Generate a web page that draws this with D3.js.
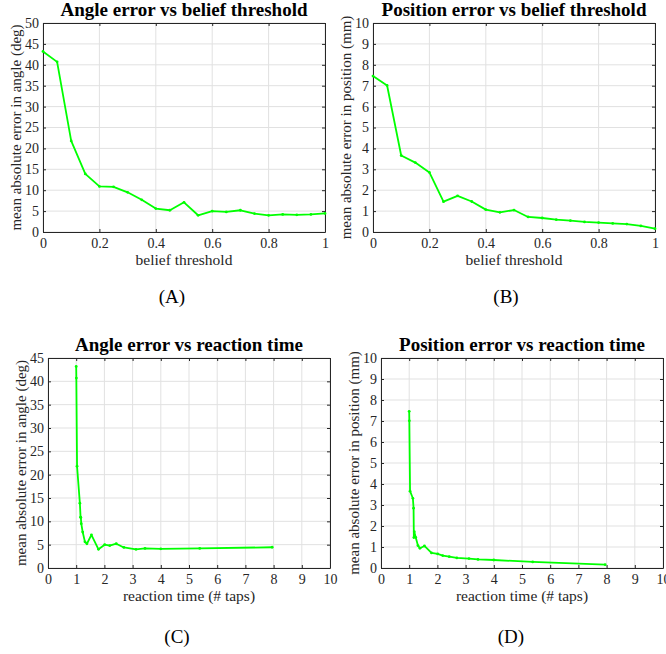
<!DOCTYPE html>
<html lang="en">
<head>
    <meta charset="utf-8">
    <title>Error vs belief threshold / reaction time</title>
    <script src="https://d3js.org/d3.v7.min.js"></script>
    <style>
        body { margin: 0; background: #fff; }
        text { font-family: "Liberation Serif", "Times New Roman", serif; }
    </style>
</head>
<body>
    <svg width="666" height="654" id="mainsvg"></svg>
    <script>
        // belief threshold steps (shared by A and B)
        const beliefThreshold = [0, 0.05, 0.1, 0.15, 0.2, 0.25, 0.3, 0.35, 0.4, 0.45, 0.5,
            0.55, 0.6, 0.65, 0.7, 0.75, 0.8, 0.85, 0.9, 0.95, 1];
        // mean absolute error in angle (deg)
        const angleError = [43.2, 40.7, 21.8, 13.9, 10.9, 10.8, 9.5, 7.7, 5.6, 5.2, 7.1,
            4.0, 5.0, 4.8, 5.2, 4.4, 4.0, 4.2, 4.1, 4.2, 4.45];
        // mean absolute error in position (mm)
        const positionError = [7.46, 7.01, 3.66, 3.32, 2.85, 1.45, 1.73, 1.46, 1.07, 0.94, 1.05,
            0.72, 0.67, 0.59, 0.54, 0.48, 0.45, 0.41, 0.38, 0.29, 0.16];
        // reaction time (# taps) for each threshold (shared by C and D)
        const reactionTime = [1.0, 1.005, 1.03, 1.13, 1.155, 1.165, 1.18, 1.23, 1.31, 1.38, 1.54,
            1.79, 2.01, 2.19, 2.42, 2.69, 3.12, 3.44, 4.0, 5.38, 7.95];

        const thresholdTicks = [0, 0.2, 0.4, 0.6, 0.8, 1];
        const timeTicks = [0, 1, 2, 3, 4, 5, 6, 7, 8, 9, 10];
        const angleTicksA = [0, 5, 10, 15, 20, 25, 30, 35, 40, 45, 50];
        const angleTicksC = [0, 5, 10, 15, 20, 25, 30, 35, 40, 45];
        const positionTicks = [0, 1, 2, 3, 4, 5, 6, 7, 8, 9, 10];

        const svg = d3.select('#mainsvg');
        const lineColor = '#00ff00';
        const axisColor = '#262626';
        const gridColor = '#e1e1e1';

        const drawPanel = function (p) {
            const xScale = d3.scaleLinear().domain(p.xDomain).range([p.left, p.right]);
            const yScale = d3.scaleLinear().domain(p.yDomain).range([p.bottom, p.top]);
            const g = svg.append('g');

            // grid
            g.selectAll('.vgrid').data(p.xTicks).enter().append('line')
                .attr('x1', d => xScale(d)).attr('x2', d => xScale(d))
                .attr('y1', p.top).attr('y2', p.bottom)
                .attr('stroke', gridColor).attr('stroke-width', 1);
            g.selectAll('.hgrid').data(p.yTicks).enter().append('line')
                .attr('y1', d => yScale(d)).attr('y2', d => yScale(d))
                .attr('x1', p.left).attr('x2', p.right)
                .attr('stroke', gridColor).attr('stroke-width', 1);

            // axes (MATLAB style: box, ticks in)
            const xAxis = d3.axisBottom(xScale).tickValues(p.xTicks).tickSizeInner(-3).tickSizeOuter(0)
                .tickPadding(7).tickFormat(d3.format('~g'));
            const yAxis = d3.axisLeft(yScale).tickValues(p.yTicks).tickSizeInner(-3).tickSizeOuter(0)
                .tickPadding(7).tickFormat(d3.format('~g'));
            const xTop = d3.axisTop(xScale).tickValues(p.xTicks).tickSizeInner(-3).tickSizeOuter(0).tickFormat('');
            const yRight = d3.axisRight(yScale).tickValues(p.yTicks).tickSizeInner(-3).tickSizeOuter(0).tickFormat('');

            const gx = g.append('g').attr('transform', `translate(0,${p.bottom})`).call(xAxis);
            const gy = g.append('g').attr('transform', `translate(${p.left},0)`).call(yAxis);
            const gt = g.append('g').attr('transform', `translate(0,${p.top})`).call(xTop);
            const gr = g.append('g').attr('transform', `translate(${p.right},0)`).call(yRight);
            [gx, gy, gt, gr].forEach(a => {
                a.attr('font-family', '"Liberation Serif", serif');
                a.selectAll('path, line').attr('stroke', axisColor);
                a.selectAll('text').attr('fill', axisColor).attr('font-size', '14px');
            });
            gx.selectAll('text').attr('dy', '0.71em').attr('y', 6);
            gy.selectAll('text').attr('x', -4);

            // line + small markers
            const pts = p.xs.map((x, i) => [x, p.ys[i]]);
            g.append('path').datum(pts)
                .attr('d', d3.line().x(d => xScale(d[0])).y(d => yScale(d[1])))
                .attr('fill', 'none').attr('stroke', lineColor).attr('stroke-width', 1.8)
                .attr('stroke-linejoin', 'round');
            g.selectAll('.mk').data(pts).enter().append('circle')
                .attr('cx', d => xScale(d[0])).attr('cy', d => yScale(d[1]))
                .attr('r', 1.4).attr('fill', lineColor);

            const cx = (p.left + p.right) / 2;
            g.append('text').text(p.title)
                .attr('x', cx).attr('y', p.top - 7)
                .attr('text-anchor', 'middle').attr('font-weight', 'bold')
                .attr('font-size', '19px').attr('fill', '#000');
            g.append('text').text(p.xLabel)
                .attr('x', cx).attr('y', p.bottom + 33)
                .attr('text-anchor', 'middle').attr('font-size', '15.5px').attr('fill', axisColor);
            g.append('text').text(p.yLabel)
                .attr('transform', `translate(${p.left - 22},${(p.top + p.bottom) / 2}) rotate(-90)`)
                .attr('text-anchor', 'middle').attr('font-size', '15px').attr('fill', axisColor);
            g.append('text').text(p.tag)
                .attr('x', p.tagX).attr('y', p.tagY)
                .attr('text-anchor', 'middle').attr('font-size', '19px').attr('fill', '#000');
        };

        drawPanel({
            left: 43, right: 325, top: 23, bottom: 232,
            xDomain: [0, 1], yDomain: [0, 50], xTicks: thresholdTicks, yTicks: angleTicksA,
            xs: beliefThreshold, ys: angleError,
            title: 'Angle error vs belief threshold', xLabel: 'belief threshold',
            yLabel: 'mean absolute error in angle (deg)', tag: '(A)', tagX: 172, tagY: 303
        });
        drawPanel({
            left: 373, right: 655, top: 23, bottom: 232,
            xDomain: [0, 1], yDomain: [0, 10], xTicks: thresholdTicks, yTicks: positionTicks,
            xs: beliefThreshold, ys: positionError,
            title: 'Position error vs belief threshold', xLabel: 'belief threshold',
            yLabel: 'mean absolute error in position (mm)', tag: '(B)', tagX: 506, tagY: 303
        });
        drawPanel({
            left: 48, right: 330, top: 358, bottom: 568,
            xDomain: [0, 10], yDomain: [0, 45], xTicks: timeTicks, yTicks: angleTicksC,
            xs: reactionTime, ys: angleError,
            title: 'Angle error vs reaction time', xLabel: 'reaction time (# taps)',
            yLabel: 'mean absolute error in angle (deg)', tag: '(C)', tagX: 177, tagY: 643
        });
        drawPanel({
            left: 381, right: 663, top: 358, bottom: 568,
            xDomain: [0, 10], yDomain: [0, 10], xTicks: timeTicks, yTicks: positionTicks,
            xs: reactionTime, ys: positionError,
            title: 'Position error vs reaction time', xLabel: 'reaction time (# taps)',
            yLabel: 'mean absolute error in position (mm)', tag: '(D)', tagX: 511, tagY: 643
        });
    </script>
</body>
</html>
